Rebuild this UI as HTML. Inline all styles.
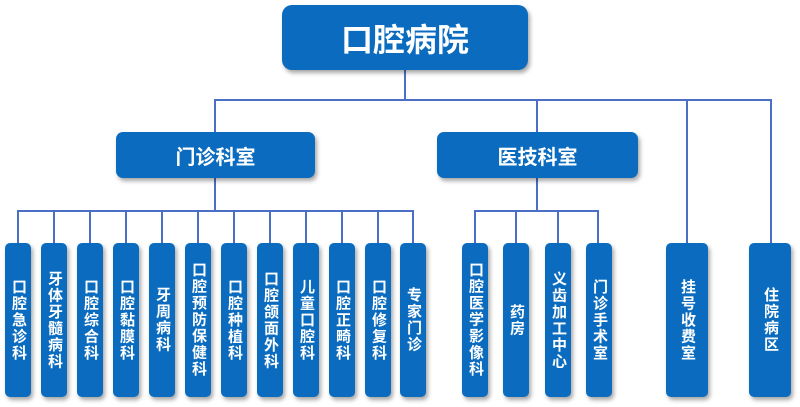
<!DOCTYPE html>
<html><head><meta charset="utf-8"><style>
body{margin:0;width:800px;height:407px;background:#fff;position:relative;overflow:hidden;font-family:"Liberation Sans","Noto Sans CJK SC",sans-serif}
.b{position:absolute;background:#0b6cbf;color:#fff;font-weight:bold;border-radius:7px;box-shadow:2px 3px 4px rgba(0,0,0,.35);display:flex;align-items:center;justify-content:center;text-align:center}
.v{width:26px;top:243px;height:154px;font-size:15px;line-height:18px;writing-mode:vertical-rl;text-orientation:upright;letter-spacing:1.5px;border-radius:5px}
.l{position:absolute;background:#4a6fc4}
</style></head><body>
<div class="l" style="left:404px;top:70px;width:2px;height:31px"></div>
<div class="l" style="left:214px;top:99px;width:558px;height:2px"></div>
<div class="l" style="left:214px;top:99px;width:2px;height:33px"></div>
<div class="l" style="left:536px;top:99px;width:2px;height:33px"></div>
<div class="l" style="left:686px;top:99px;width:2px;height:144px"></div>
<div class="l" style="left:770px;top:99px;width:2px;height:144px"></div>
<div class="l" style="left:214px;top:178px;width:2px;height:34px"></div>
<div class="l" style="left:17px;top:210px;width:397px;height:2px"></div>
<div class="l" style="left:536px;top:178px;width:2px;height:34px"></div>
<div class="l" style="left:474px;top:210px;width:125px;height:2px"></div>
<div class="l" style="left:17px;top:210px;width:2px;height:33px"></div>
<div class="l" style="left:53px;top:210px;width:2px;height:33px"></div>
<div class="l" style="left:89px;top:210px;width:2px;height:33px"></div>
<div class="l" style="left:125px;top:210px;width:2px;height:33px"></div>
<div class="l" style="left:161px;top:210px;width:2px;height:33px"></div>
<div class="l" style="left:197px;top:210px;width:2px;height:33px"></div>
<div class="l" style="left:233px;top:210px;width:2px;height:33px"></div>
<div class="l" style="left:269px;top:210px;width:2px;height:33px"></div>
<div class="l" style="left:305px;top:210px;width:2px;height:33px"></div>
<div class="l" style="left:341px;top:210px;width:2px;height:33px"></div>
<div class="l" style="left:377px;top:210px;width:2px;height:33px"></div>
<div class="l" style="left:412px;top:210px;width:2px;height:33px"></div>
<div class="l" style="left:474px;top:210px;width:2px;height:33px"></div>
<div class="l" style="left:515px;top:210px;width:2px;height:33px"></div>
<div class="l" style="left:557px;top:210px;width:2px;height:33px"></div>
<div class="l" style="left:597px;top:210px;width:2px;height:33px"></div>

<div class="b" style="left:282px;top:5px;width:246px;height:65px;font-size:32px;border-radius:10px">口腔病院</div>
<div class="b" style="left:116px;top:132px;width:199px;height:46px;font-size:20px">门诊科室</div>
<div class="b" style="left:437px;top:132px;width:201px;height:46px;font-size:20px">医技科室</div>

<div class="b v" style="left:5px">口腔急诊科</div>
<div class="b v" style="left:41px">牙体牙髓病科</div>
<div class="b v" style="left:77px">口腔综合科</div>
<div class="b v" style="left:113px">口腔黏膜科</div>
<div class="b v" style="left:149px">牙周病科</div>
<div class="b v" style="left:185px">口腔预防保健科</div>
<div class="b v" style="left:221px">口腔种植科</div>
<div class="b v" style="left:257px">口腔颌面外科</div>
<div class="b v" style="left:293px">儿童口腔科</div>
<div class="b v" style="left:329px">口腔正畸科</div>
<div class="b v" style="left:365px">口腔修复科</div>
<div class="b v" style="left:400px">专家门诊</div>
<div class="b v" style="left:462px">口腔医学影像科</div>
<div class="b v" style="left:503px">药房</div>
<div class="b v" style="left:545px">义齿加工中心</div>
<div class="b v" style="left:586px">门诊手术室</div>
<div class="b v" style="left:666px;width:42px">挂号收费室</div>
<div class="b v" style="left:749px;width:42px">住院病区</div>
</body></html>
